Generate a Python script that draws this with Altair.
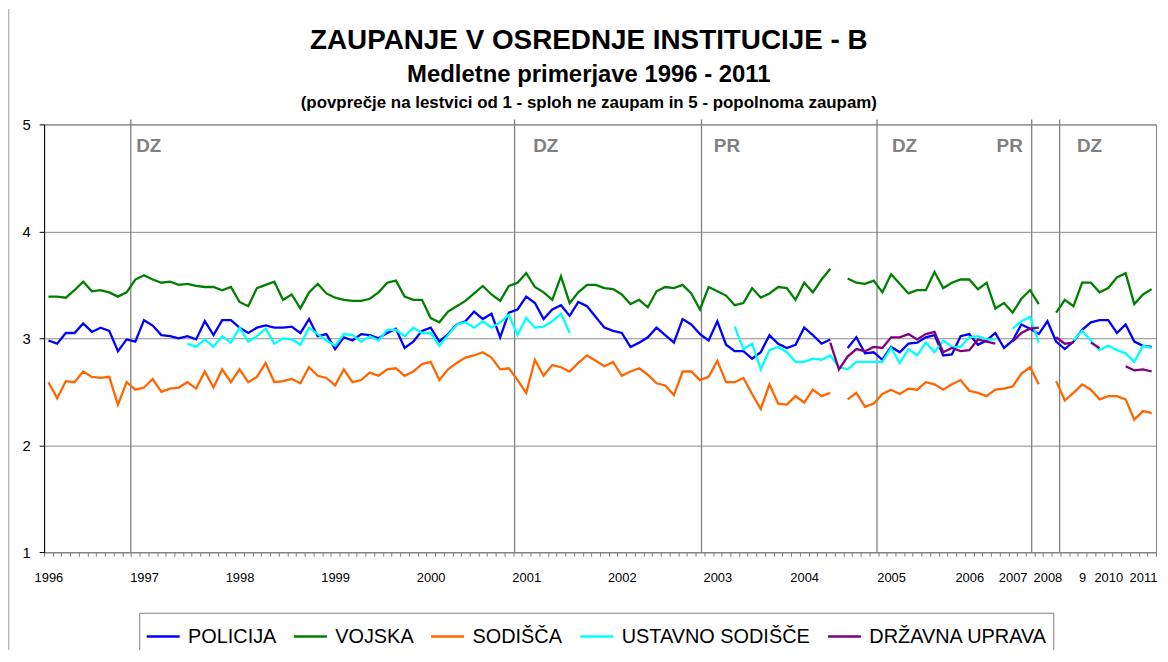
import altair as alt
import pandas as pd

# ---------------- data ----------------
series_names = ["POLICIJA", "VOJSKA", "SODIŠČA", "USTAVNO SODIŠČE", "DRŽAVNA UPRAVA"]
series_colors = ["#0000FF", "#008000", "#FF6600", "#00FFFF", "#800080"]

policija = [
    2.98, 2.95, 3.05, 3.05, 3.14, 3.06, 3.10, 3.07, 2.88, 2.99,
    2.97, 3.17, 3.12, 3.03, 3.02, 3.00, 3.02, 2.99, 3.16, 3.03,
    3.17, 3.17, 3.10, 3.05, 3.10, 3.12, 3.10, 3.10, 3.11, 3.05,
    3.18, 3.02, 3.04, 2.90, 3.01, 2.98, 3.04, 3.03, 3.00, 3.05,
    3.09, 2.91, 2.97, 3.07, 3.10, 2.97, 3.04, 3.13, 3.16, 3.25,
    3.18, 3.23, 3.01, 3.24, 3.27, 3.39, 3.33, 3.18, 3.27, 3.31,
    3.21, 3.34, 3.30, 3.20, 3.10, 3.07, 3.05, 2.92, 2.96, 3.01,
    3.10, 3.03, 2.96, 3.18, 3.13, 3.04, 2.98, 3.16, 2.94, 2.88,
    2.88, 2.81, 2.87, 3.03, 2.95, 2.91, 2.94, 3.10, 3.03, 2.95,
    2.99, None, 2.91, 3.01, 2.86, 2.87, 2.80, 2.92, 2.87, 2.95,
    2.96, 3.01, 3.03, 2.84, 2.85, 3.02, 3.04, 2.94, 2.98, 3.05,
    2.91, 2.98, 3.13, 3.09, 3.04, 3.16, 2.97, 2.90, 2.97, 3.08,
    3.15, 3.17, 3.17, 3.05, 3.13, 2.97, 2.93, 2.92,
]
vojska = [
    3.39, 3.39, 3.38, 3.45, 3.53, 3.44, 3.45, 3.43, 3.39, 3.43,
    3.55, 3.59, 3.55, 3.52, 3.53, 3.50, 3.51, 3.49, 3.48, 3.48,
    3.45, 3.48, 3.34, 3.30, 3.47, 3.50, 3.53, 3.36, 3.41, 3.28,
    3.43, 3.51, 3.42, 3.38, 3.36, 3.35, 3.35, 3.37, 3.43, 3.52,
    3.54, 3.39, 3.36, 3.36, 3.19, 3.15, 3.25, 3.30, 3.35, 3.42,
    3.49, 3.41, 3.35, 3.49, 3.52, 3.61, 3.48, 3.43, 3.36, 3.58,
    3.33, 3.43, 3.50, 3.50, 3.47, 3.46, 3.41, 3.32, 3.36, 3.29,
    3.44, 3.48, 3.47, 3.50, 3.42, 3.27, 3.48, 3.44, 3.40, 3.31,
    3.33, 3.47, 3.38, 3.42, 3.48, 3.47, 3.36, 3.52, 3.43, 3.55,
    3.65, None, 3.56, 3.52, 3.51, 3.54, 3.43, 3.60, 3.51, 3.42,
    3.45, 3.45, 3.62, 3.47, 3.52, 3.55, 3.55, 3.46, 3.52, 3.28,
    3.33, 3.24, 3.37, 3.45, 3.32, None, 3.24, 3.36, 3.30, 3.52,
    3.52, 3.43, 3.47, 3.57, 3.61, 3.32, 3.41, 3.46,
]
sodisca = [
    2.59, 2.44, 2.60, 2.59, 2.69, 2.64, 2.63, 2.64, 2.38, 2.59,
    2.52, 2.54, 2.62, 2.50, 2.53, 2.54, 2.59, 2.53, 2.69, 2.54,
    2.71, 2.59, 2.71, 2.59, 2.64, 2.77, 2.59, 2.60, 2.62, 2.58,
    2.73, 2.65, 2.63, 2.56, 2.71, 2.59, 2.61, 2.68, 2.65, 2.71,
    2.72, 2.65, 2.69, 2.76, 2.78, 2.61, 2.71, 2.77, 2.82, 2.84,
    2.87, 2.82, 2.71, 2.72, 2.61, 2.49, 2.80, 2.65, 2.75, 2.73,
    2.69, 2.77, 2.84, 2.79, 2.74, 2.78, 2.65, 2.69, 2.72, 2.66,
    2.58, 2.56, 2.47, 2.69, 2.69, 2.61, 2.64, 2.79, 2.59, 2.59,
    2.63, 2.48, 2.34, 2.57, 2.39, 2.38, 2.46, 2.40, 2.52, 2.46,
    2.49, None, 2.43, 2.49, 2.36, 2.39, 2.48, 2.52, 2.48, 2.53,
    2.52, 2.59, 2.57, 2.52, 2.57, 2.61, 2.51, 2.49, 2.46, 2.52,
    2.53, 2.55, 2.67, 2.73, 2.57, None, 2.60, 2.42, 2.49, 2.57,
    2.52, 2.43, 2.46, 2.46, 2.43, 2.24, 2.32, 2.30,
]
ustavno = (
    [None] * 16
    + [2.95, 2.92, 2.99, 2.92,
       3.02, 2.96, 3.10, 2.97, 3.02, 3.09, 2.95, 3.00, 2.99, 2.94,
       3.10, 3.04, 2.98, 2.93, 3.04, 3.03, 2.97, 3.02, 2.98, 3.08,
       3.08, 3.02, 3.10, 3.05, 3.05, 2.93, 3.03, 3.13, 3.15, 3.10,
       3.16, 3.10, 3.15, 3.22, 3.03, 3.19, 3.10, 3.11, 3.16, 3.23,
       3.05]
    + [None] * 18
    + [3.11,
       2.90, 2.95, 2.71, 2.89, 2.92, 2.87, 2.78, 2.78, 2.81, 2.80,
       2.84, 2.73, 2.71, 2.78, 2.78, 2.78, 2.78, 2.91, 2.77, 2.90,
       2.84, 2.96, 2.87, 2.98, 2.92, 2.92, 3.01, 3.02, 2.99, 2.99,
       None, 3.09, 3.16, 3.20, 2.96, None, None, None, 2.98, 3.07,
       2.98, 2.89, 2.93, 2.89, 2.86, 2.78, 2.93, 2.91]
)
drzavna = (
    [None] * 90
    + [2.96, 2.71, 2.83, 2.90, 2.88, 2.92, 2.91, 3.01, 3.01, 3.04,
       2.99, 3.04, 3.06, 2.87, 2.91, 2.88, 2.89, 2.99, 2.97, 2.95,
       None, 2.97, 3.05, 3.09, 3.10, None, 3.01, 2.95, 2.96, None,
       2.96, 2.91, None, None, 2.74, 2.70, 2.71, 2.69]
)
series_values = [policija, vojska, sodisca, ustavno, drzavna]

# year labels on the category axis (category index -> label)
year_label_index = [0, 11, 22, 33, 44, 55, 66, 77, 87, 97, 106, 111, 115, 119, 122, 126]
year_label_text = ["1996", "1997", "1998", "1999", "2000", "2001", "2002", "2003",
                   "2004", "2005", "2006", "2007", "2008", "9", "2010", "2011"]

# election markers (position in category units) and their labels
election_pos = [9.48, 53.66, 75.18, 95.38, 113.19, 116.4]
election_label = ["DZ", "DZ", "PR", "DZ", "PR", "DZ"]
election_label_pos = [10.1, 55.8, 76.6, 97.1, 109.15, 118.4]

title_lines = [
    "ZAUPANJE V OSREDNJE INSTITUCIJE - B",
    "Medletne primerjave 1996 - 2011",
    "(povprečje na lestvici od 1 - sploh ne zaupam in 5 - popolnoma zaupam)",
]

N = len(policija)

# ---------------- build tables ----------------
rows = []
for name, vals in zip(series_names, series_values):
    seg = 0
    prev_none = True
    for i, v in enumerate(vals):
        if v is None:
            prev_none = True
            continue
        if prev_none:
            seg += 1
            prev_none = False
        rows.append({"i": i, "series": name, "value": v, "seg": f"{name}-{seg}"})
df = pd.DataFrame(rows)

elec_df = pd.DataFrame({"i": election_pos})
elec_lab_df = pd.DataFrame({"i": election_label_pos, "lab": election_label})

FONT = "Liberation Sans"
W, H = 1118, 430.2

expr = "".join(f"datum.value == {idx - 0.5} ? '{t}' : " for idx, t in zip(year_label_index, year_label_text)) + "''"

x_axis = alt.Axis(
    values=[k - 0.5 for k in range(N + 1)],
    labelExpr=expr,
    title=None,
    grid=False,
    tickSize=4,
    tickColor="#808080",
    domainColor="#808080",
    labelOffset=W / N / 2,
    labelPadding=15,
    labelFontSize=13,
    labelFont=FONT,
    labelColor="black",
    labelOverlap=False,
    labelBound=False,
    labelFlush=False,
)
x_enc = alt.X("i:Q", scale=alt.Scale(domain=[-0.5, N - 0.5], nice=False, zero=False), axis=x_axis)

y_axis = alt.Axis(
    values=[1, 2, 3, 4, 5],
    title=None,
    grid=True,
    gridColor="#8c8c8c",
    tickSize=5,
    tickColor="black",
    domainColor="black",
    labelFontSize=15,
    labelPadding=9,
    labelFont=FONT,
    labelColor="black",
)
y_scale = alt.Scale(domain=[1, 5], nice=False, zero=False)

color_enc = alt.Color(
    "series:N",
    scale=alt.Scale(domain=series_names, range=series_colors),
    legend=alt.Legend(
        orient="none",
        legendX=95.7,
        legendY=491,
        direction="horizontal",
        columns=5,
        title=None,
        symbolType="stroke",
        symbolSize=1100,
        symbolStrokeWidth=2.5,
        labelFontSize=20,
        labelFont=FONT,
        labelColor="black",
        labelLimit=0,
        labelOffset=7,
        columnPadding=12,
        padding=6,
        strokeColor="#808080",
        fillColor="white",
    ),
)

rules = alt.Chart(elec_df).mark_rule(color="#808080", strokeWidth=1.3).encode(
    x=x_enc, y=alt.value(-5), y2=alt.value(H)
)

lines = []
for name in series_names:
    lines.append(
        alt.Chart(df)
        .transform_filter(alt.datum.series == name)
        .mark_line(strokeWidth=2.3)
        .encode(
            x=x_enc,
            y=alt.Y("value:Q", scale=y_scale, axis=y_axis),
            color=color_enc,
            detail="seg:N",
            order="i:Q",
        )
    )

elec_text = alt.Chart(elec_lab_df).mark_text(
    align="left", baseline="alphabetic", font=FONT, fontSize=19, fontWeight="bold", color="#808080"
).encode(x=x_enc, y=alt.value(27.7), text="lab:N")

title_df = pd.DataFrame({"t": title_lines, "row": [0, 1, 2]})
t1 = alt.Chart(title_df.iloc[[0]]).mark_text(
    align="center", baseline="alphabetic", font=FONT, fontSize=28, fontWeight="bold", color="black"
).encode(x=alt.value(547.7), y=alt.value(-76), text="t:N")
t2 = alt.Chart(title_df.iloc[[1]]).mark_text(
    align="center", baseline="alphabetic", font=FONT, fontSize=24, fontWeight="bold", color="black"
).encode(x=alt.value(547.7), y=alt.value(-43), text="t:N")
t3 = alt.Chart(title_df.iloc[[2]]).mark_text(
    align="center", baseline="alphabetic", font=FONT, fontSize=17, fontWeight="bold", color="black"
).encode(x=alt.value(547.7), y=alt.value(-17), text="t:N")

frame = alt.Chart(pd.DataFrame({"a": [0]})).mark_rule(color="#9a9a9a", strokeWidth=1).encode(
    x=alt.value(-35.5), y=alt.value(-116), y2=alt.value(H + 100)
)

chart = (
    alt.layer(rules, *lines, elec_text, t1, t2, t3, frame)
    .properties(
        width=W,
        height=H,
        padding={"left": 36.3, "top": 115.3, "right": 4, "bottom": 96.5},
        autosize=alt.AutoSizeParams(type="none"),
        background="white",
    )
    .configure_view(stroke="#808080", strokeWidth=1)
)

chart.save("out.html", embed_options={"renderer": "svg", "actions": False})
